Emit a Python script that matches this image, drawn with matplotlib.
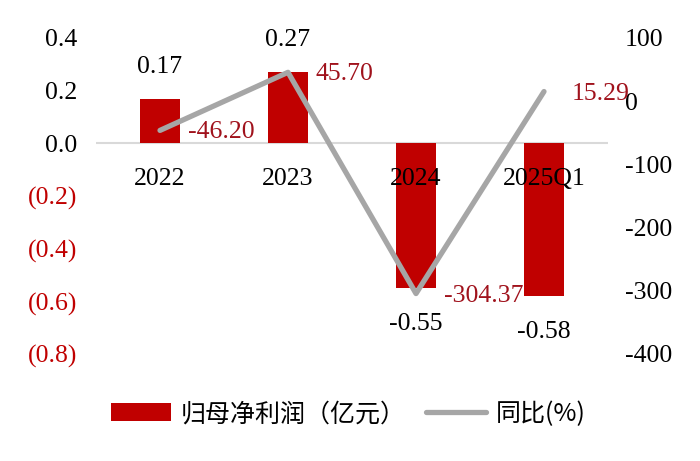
import matplotlib
matplotlib.use('Agg')
import matplotlib.pyplot as plt
from matplotlib.patches import Patch
from matplotlib.lines import Line2D

categories = ['2022', '2023', '2024', '2025Q1']
profit = [0.17, 0.27, -0.55, -0.58]          # 归母净利润（亿元）
yoy = [-46.20, 45.70, -304.37, 15.29]         # 同比(%)
left_ticks = [0.4, 0.2, 0.0, -0.2, -0.4, -0.6, -0.8]
left_labels = ['0.4', '0.2', '0.0', '(0.2)', '(0.4)', '(0.6)', '(0.8)']
right_ticks = [100, 0, -100, -200, -300, -400]
right_labels = ['100', '0', '-100', '-200', '-300', '-400']
legend_labels = ['归母净利润（亿元）', '同比(%)']

BAR = '#C00000'
LINE = '#A6A6A6'
LBL_RED = '#A0121C'
plt.rcParams['font.family'] = ['Liberation Serif', 'DejaVu Serif']
FS = 18.5

fig = plt.figure(figsize=(7, 4.61), dpi=100)
W, H = 700, 461
ax = fig.add_axes([96 / W, 1 - 354 / H, 512 / W, 316 / H])
ax.set_xlim(-0.5, 3.5)
ax.set_ylim(-0.8, 0.4)
ax2 = ax.twinx()
ax2.set_ylim(-400, 100)

x = list(range(len(categories)))
ax.bar(x, profit, width=0.32, color=BAR, zorder=2)
ax.axhline(0, color='#D9D9D9', lw=1.5, zorder=1)
ax2.plot(x, yoy, color=LINE, lw=3.8, solid_capstyle='round',
         solid_joinstyle='round', zorder=3)

for i, v in enumerate(profit):
    off = 23 if v >= 0 else -26
    ax.annotate(f'{v:.2f}', (i, v), xytext=(0, off), textcoords='offset points',
                ha='center', va='center', fontsize=FS, color='black')
    ax.annotate(categories[i], (i, 0), xytext=(0, -25.5), textcoords='offset points',
                ha='center', va='center', fontsize=FS, color='black', zorder=10)

for i, v in enumerate(yoy):
    ax2.annotate(f'{v:.2f}', (i, v), xytext=(20, -1.5), textcoords='offset points',
                 ha='left', va='center', fontsize=FS, color=LBL_RED, zorder=10)

ax.set_xticks([])
ax.set_yticks(left_ticks)
ax.set_yticklabels(left_labels)
ax.tick_params(axis='y', length=0, labelsize=FS, pad=13.5)
for t, v in zip(ax.get_yticklabels(), left_ticks):
    t.set_color(BAR if v < 0 else 'black')

ax2.set_yticks(right_ticks)
ax2.set_yticklabels(right_labels)
ax2.tick_params(axis='y', length=0, labelsize=FS, pad=12)

for a in (ax, ax2):
    for s in a.spines.values():
        s.set_visible(False)

handles = [Patch(facecolor=BAR, edgecolor='none'),
           Line2D([], [], color=LINE, lw=3.8, solid_capstyle='round')]
fig.legend(handles, legend_labels, loc='center', bbox_to_anchor=(348 / W, 1 - 414 / H),
           ncol=2, frameon=False, handlelength=2.4, handleheight=0.75,
           handletextpad=0.4, columnspacing=0.8,
           prop={'family': ['Noto Sans CJK SC', 'DejaVu Sans'], 'size': 18})

fig.savefig('out.png', dpi=100, facecolor='white')
